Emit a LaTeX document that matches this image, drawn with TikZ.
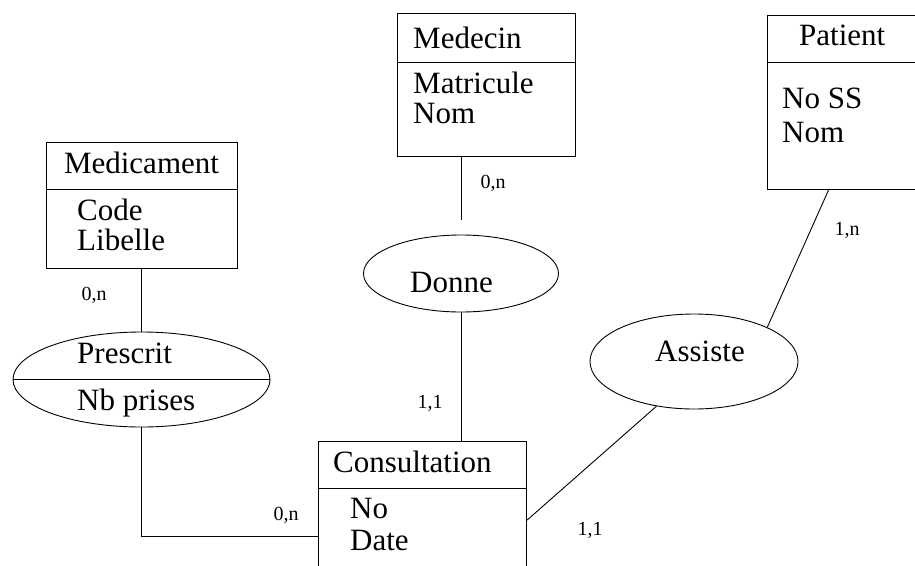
\documentclass[tikz,border=0pt]{standalone}
\usepackage{fontspec}
\setmainfont{Liberation Serif}
\usetikzlibrary{shapes.geometric,calc}
\begin{document}
\begin{tikzpicture}[x=1pt,y=-1pt,
  box/.style={draw,line width=1.2pt,inner sep=0,anchor=north west},
  rel/.style={draw,ellipse,line width=0.9pt,inner sep=0},
  lbl/.style={font=\fontsize{31}{31}\selectfont,inner sep=0,anchor=base west},
  ttl/.style={font=\fontsize{31}{31}\selectfont,inner sep=0,anchor=base},
  card/.style={font=\fontsize{20}{20}\selectfont,inner sep=0},
  link/.style={line width=0.9pt}]
\useasboundingbox (0,0) rectangle (915,565);
% Medicament
\node[box,minimum width=191pt,minimum height=47pt] (medT) at (46,142) {};
\node[box,minimum width=191pt,minimum height=79pt] (medB) at (46,189) {};
\node[ttl] (medTx) at (141.5,173) {Medicament};
\node[lbl] (medA1) at (77,220) {Code};
\node[lbl] (medA2) at (77,250) {Libelle};
% Medecin
\node[box,minimum width=178pt,minimum height=49pt] (mdcT) at (397,13) {};
\node[box,minimum width=178pt,minimum height=94pt] (mdcB) at (397,62) {};
\node[lbl] (mdcTx) at (413,48) {Medecin};
\node[lbl] (mdcA1) at (413,93) {Matricule};
\node[lbl] (mdcA2) at (413,123) {Nom};
% Patient
\node[box,minimum width=151pt,minimum height=47pt] (patT) at (767,15) {};
\node[box,minimum width=151pt,minimum height=127pt] (patB) at (767,62) {};
\node[lbl] (patTx) at (799,45) {Patient};
\node[lbl] (patA1) at (782,108) {No SS};
\node[lbl] (patA2) at (782,142) {Nom};
% Consultation
\node[box,minimum width=208pt,minimum height=47pt] (conT) at (318,441) {};
\node[box,minimum width=208pt,minimum height=100pt] (conB) at (318,488) {};
\node[lbl] (conTx) at (333,472) {Consultation};
\node[lbl] (conA1) at (350,518) {No};
\node[lbl] (conA2) at (350,550) {Date};
% Relations
\node[rel,minimum width=257pt,minimum height=95pt] (prescrit) at (141.5,379.5) {};
\draw[line width=0.9pt] (prescrit.west) -- (prescrit.east);
\node[lbl] (presTx) at (77,363) {Prescrit};
\node[lbl] (presA1) at (77,410) {Nb prises};
\node[rel,minimum width=195pt,minimum height=77pt] (donne) at (461,273.5) {};
\node[lbl] (donTx) at (410,292) {Donne};
\node[rel,minimum width=208pt,minimum height=95pt] (assiste) at (694,361.5) {};
\node[lbl] (assTx) at (655,361) {Assiste};
% Links
\draw[link] (medB.south -| prescrit.north) -- (prescrit.north);
\coordinate (donTop) at (461,220);
\draw[link] (donTop |- mdcB.south) -- (donTop);
\draw[link] (donne.south) -- (donne.south |- conT.north);
\coordinate (patFoot) at (829,189);
\draw[link] (patFoot) -- (assiste.25);
\draw[link] (assiste.230) -- ($(conB.north east)+(0,32)$);
\draw[link] (prescrit.south) |- ($(conB.north west)+(0,48)$);
% Cardinalities
\node[card] (c1) at (94,295) {0,n};
\node[card] (c2) at (493,183) {0,n};
\node[card] (c3) at (847,230) {1,n};
\node[card] (c4) at (430,403) {1,1};
\node[card] (c5) at (286,515) {0,n};
\node[card] (c6) at (590,530) {1,1};
\end{tikzpicture}
\end{document}
